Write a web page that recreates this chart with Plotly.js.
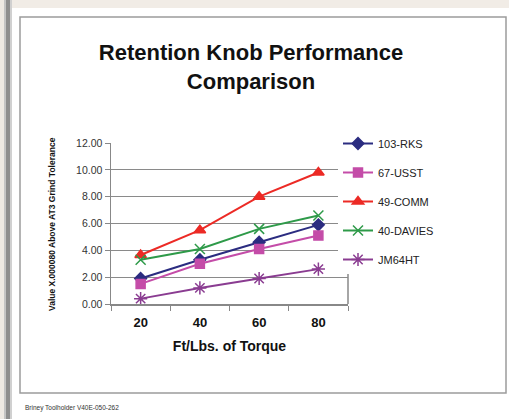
<!DOCTYPE html>
<html>
<head>
<meta charset="utf-8">
<script src="https://cdn.plot.ly/plotly-3.0.1.min.js"></script>
<style>html,body{margin:0;padding:0;background:#fff;}#chart{width:509px;height:419px;}</style>
</head>
<body>
<div id="chart"></div>
<script>
// ---- data ----
const torque = ["20", "40", "60", "80"];
const seriesNames = ["103-RKS", "67-USST", "49-COMM", "40-DAVIES", "JM64HT"];
const rks103   = [1.9, 3.3, 4.6, 5.9];
const usst67   = [1.5, 3.0, 4.1, 5.1];
const comm49   = [3.65, 5.5, 8.0, 9.8];
const davies40 = [3.3, 4.1, 5.6, 6.6];
const jm64ht   = [0.4, 1.2, 1.9, 2.6];
const yTickVals = [0, 2, 4, 6, 8, 10, 12];
const titleText = "Retention Knob Performance<br>Comparison";
const xTitle = "Ft/Lbs. of Torque";
const yTitle = "Value X.000080 Above AT3 Grind Tolerance";
const footnote = "Briney Toolholder V40E-050-262";

// ---- layout geometry (pixels) ----
const W = 509, H = 419;
const L = 111, R = 348, T = 143, B = 304;
const px = v => (v - L) / (R - L);
const py = v => (B - v) / (B - T);

const styles = [
  {color: "#2B2C80", symbol: "diamond", size: 9},
  {color: "#C44CA8", symbol: "square", size: 9},
  {color: "#EC2A25", symbol: "triangle-up", size: 10},
  {color: "#2E9A49", symbol: "x-thin-open", size: 10},
  {color: "#8A3C91", symbol: "asterisk-open", size: 11}
];
const allY = [rks103, usst67, comm49, davies40, jm64ht];

const traces = allY.map((ys, i) => ({
  type: "scatter",
  mode: "lines+markers",
  name: seriesNames[i],
  x: torque,
  y: ys,
  legendgroup: "g" + i,
  line: {color: styles[i].color, width: 2},
  marker: {color: styles[i].color, symbol: styles[i].symbol, size: styles[i].size,
           line: {color: styles[i].color, width: 1.5}}
}));

const layout = {
  width: W, height: H,
  margin: {l: L, r: W - R, t: T, b: H - B, pad: 0},
  paper_bgcolor: "#ffffff",
  plot_bgcolor: "#ffffff",
  showlegend: true,
  font: {family: "Arial, 'Liberation Sans', sans-serif", color: "#222"},
  title: {
    text: titleText,
    font: {family: "Arial, 'Liberation Sans', sans-serif", size: 22, color: "#111", weight: "bold"},
    x: 251 / W, xanchor: "center", xref: "container",
    y: 1 - 60 / H, yanchor: "top", yref: "container"
  },
  xaxis: {
    type: "category",
    range: [-0.5, 3.5],
    tickson: "boundaries",
    ticks: "outside", ticklen: 5, tickcolor: "#888", tickwidth: 1,
    showline: true, linecolor: "#888", linewidth: 1.5,
    showgrid: false, zeroline: false,
    ticklabelstandoff: 6,
    tickfont: {size: 13, color: "#111", weight: "bold"},
    title: {text: xTitle, font: {size: 14, color: "#111", weight: "bold"}, standoff: 12}
  },
  yaxis: {
    range: [0, 12],
    tickvals: yTickVals,
    tickformat: ".2f",
    ticks: "outside", ticklen: 5, tickcolor: "#888",
    showline: true, linecolor: "#888", linewidth: 1.5,
    showgrid: true, gridcolor: "#8a8a8a", gridwidth: 1,
    zeroline: false,
    tickfont: {size: 10.5, color: "#333"}
  },
  legend: {
    x: px(338), xanchor: "left",
    y: py(129), yanchor: "top",
    bgcolor: "#ffffff", borderwidth: 0,
    font: {size: 11, color: "#222"},
    traceorder: "grouped",
    tracegroupgap: 10,
    itemclick: false
  },
  shapes: [
    // top beige band
    {type: "rect", xref: "paper", yref: "paper", x0: px(0), x1: px(W), y0: py(0), y1: py(8),
     fillcolor: "#F1ECE6", line: {width: 0}, layer: "below"},
    // left beige strip
    {type: "rect", xref: "paper", yref: "paper", x0: px(0), x1: px(4), y0: py(0), y1: py(H),
     fillcolor: "#EEE9E3", line: {width: 0}, layer: "below"},
    // left shadow
    {type: "rect", xref: "paper", yref: "paper", x0: px(4), x1: px(6), y0: py(0), y1: py(H),
     fillcolor: "#c4c4c4", line: {width: 0}, layer: "below"},
    {type: "rect", xref: "paper", yref: "paper", x0: px(6), x1: px(10), y0: py(0), y1: py(H),
     fillcolor: "#8e8e8e", line: {width: 0}, layer: "below"},
    {type: "rect", xref: "paper", yref: "paper", x0: px(10), x1: px(12), y0: py(0), y1: py(H),
     fillcolor: "#d0d0d0", line: {width: 0}, layer: "below"},
    // chart box border
    {type: "rect", xref: "paper", yref: "paper", x0: px(20), x1: px(506), y0: py(17), y1: py(393),
     fillcolor: "rgba(0,0,0,0)", line: {color: "#9c9c9c", width: 1.5}, layer: "below"},
    // plot area right border
    {type: "line", xref: "paper", yref: "paper", x0: 1, x1: 1, y0: 0, y1: 1,
     line: {color: "#888", width: 1.5}, layer: "below"}
  ],
  annotations: [
    {text: yTitle, xref: "paper", yref: "paper", x: px(52), y: py(224),
     xanchor: "center", yanchor: "middle", textangle: -90, showarrow: false,
     font: {size: 8.5, color: "#111", weight: "bold"}},
    {text: footnote, xref: "paper", yref: "paper", x: px(23), y: py(408),
     xanchor: "left", yanchor: "middle", showarrow: false,
     font: {size: 6.5, color: "#333"}}
  ]
};

Plotly.newPlot("chart", traces, layout, {staticPlot: true, displayModeBar: false});
</script>
</body>
</html>
